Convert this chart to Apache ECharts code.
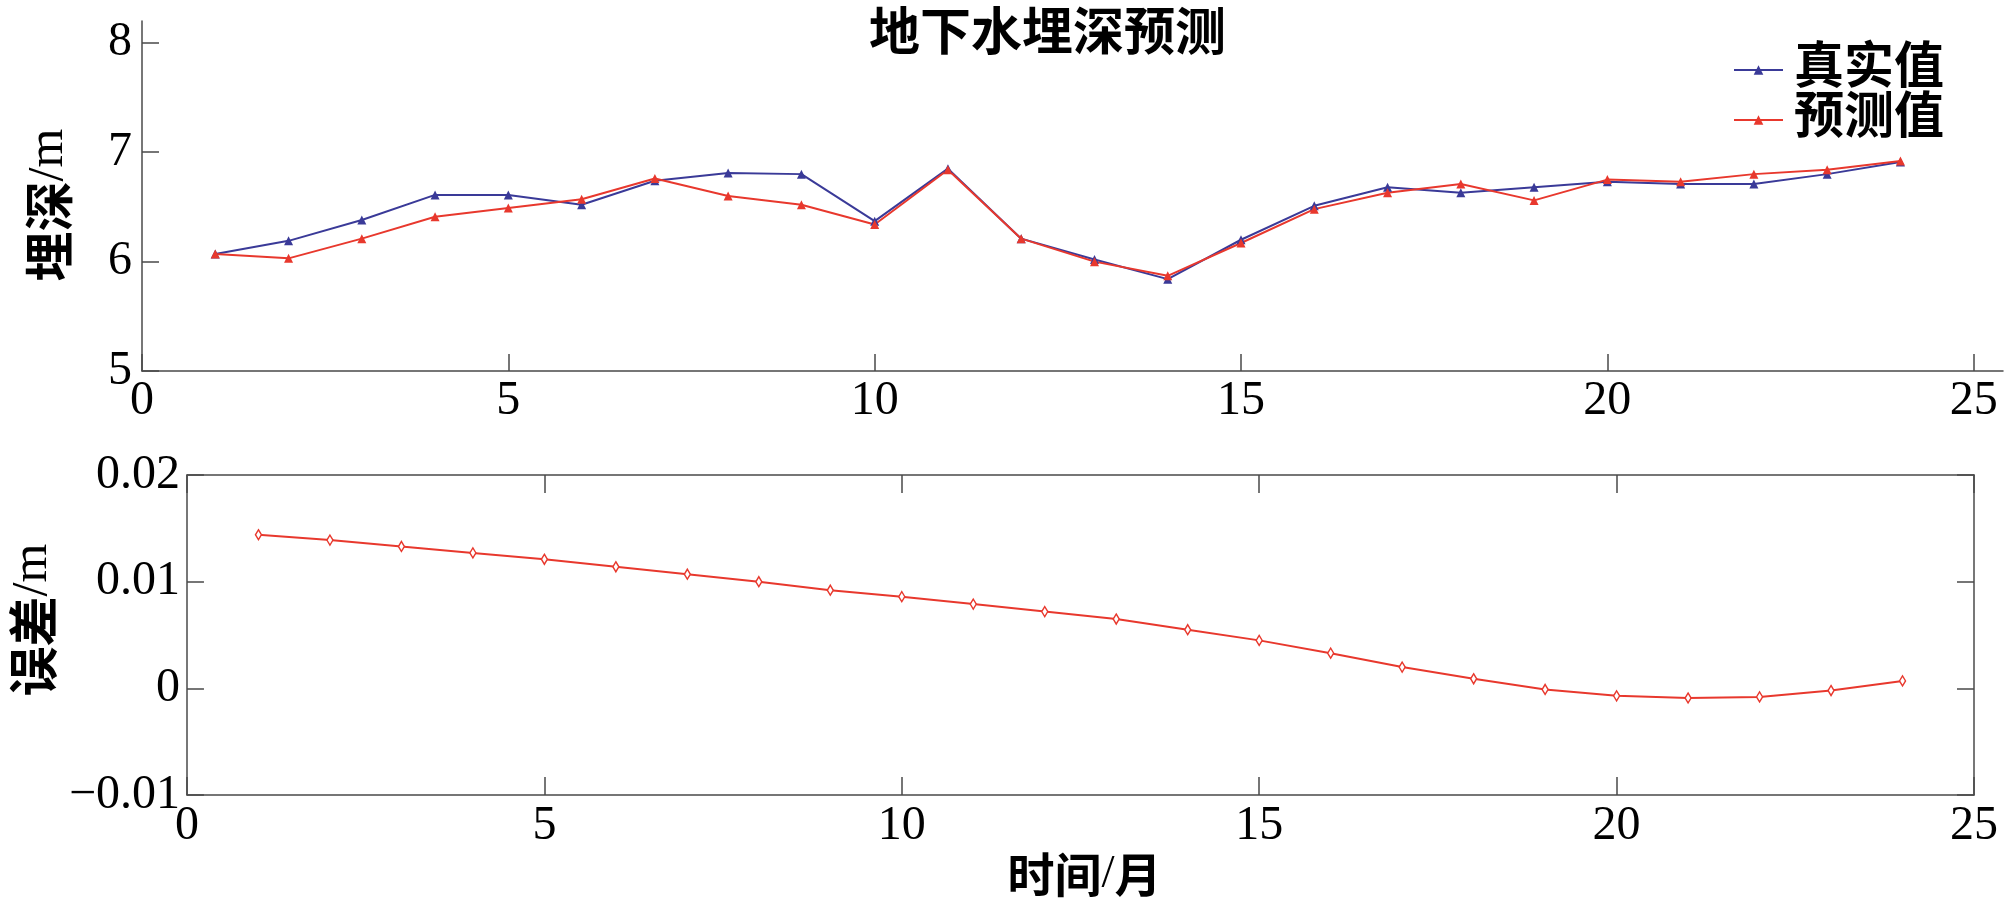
<!DOCTYPE html>
<html>
<head>
<meta charset="utf-8">
<script src="https://cdn.jsdelivr.net/npm/echarts@6/dist/echarts.min.js"></script>
<style>
html,body{margin:0;padding:0;background:#fff;}
#main{width:2008px;height:899px;}
</style>
</head>
<body>
<div id="main"></div>
<script>
// ---- data ----
const months = [1,2,3,4,5,6,7,8,9,10,11,12,13,14,15,16,17,18,19,20,21,22,23,24];
const trueDepth = [6.07,6.19,6.38,6.61,6.61,6.52,6.74,6.81,6.80,6.37,6.85,6.21,6.02,5.84,6.20,6.51,6.68,6.63,6.68,6.73,6.71,6.71,6.80,6.91];
const predDepth = [6.07,6.03,6.21,6.41,6.49,6.57,6.76,6.60,6.52,6.34,6.84,6.21,6.00,5.87,6.17,6.48,6.63,6.71,6.56,6.75,6.73,6.80,6.84,6.92];
const errorVals = [0.0144,0.0139,0.0133,0.0127,0.0121,0.0114,0.0107,0.0100,0.0092,0.0086,0.0079,0.0072,0.0065,0.0055,0.0045,0.0033,0.0020,0.0009,-0.0001,-0.0007,-0.0009,-0.0008,-0.0002,0.0007];
const xTicks = [0,5,10,15,20,25];
const depthTicks = [5,6,7,8];
const errTicks = [-0.01,0,0.01,0.02];
const seriesNames = ['真实值','预测值'];
const titleText = '地下水埋深预测';
const depthAxisName = ['埋深', '/m'];
const errAxisName = ['误差', '/m'];
const timeAxisName = ['时间', '/', '月'];

const BLUE = '#3A3A98';
const RED = '#E8382D';
const AX = '#4a4a4a';
const NUMFONT = 'Liberation Serif';
const CJKFONT = "'Liberation Serif', 'Noto Sans CJK SC'";

const pair = (xs, ys) => xs.map((x, i) => [x, ys[i]]);

const axisLine = { show: true, onZero: false, lineStyle: { color: AX, width: 1.5 } };
const numLabel = { color: '#000', fontFamily: NUMFONT, fontSize: 48 };
const nameRich = (size) => ({
  c: { fontFamily: 'Noto Sans CJK SC', fontSize: size, fontWeight: 'bold', color: '#000' },
  l: { fontFamily: NUMFONT, fontSize: size, color: '#000' }
});

const chart = echarts.init(document.getElementById('main'), null, { renderer: 'canvas' });
chart.setOption({
  animation: false,
  backgroundColor: '#fff',
  title: {
    text: titleText,
    left: 864, top: 6,
    textStyle: { fontFamily: CJKFONT, fontSize: 51, fontWeight: 'bold', color: '#000' }
  },
  legend: {
    data: seriesNames,
    orient: 'vertical',
    left: 1728, top: 40,
    itemWidth: 49, itemHeight: 12, itemGap: 0,
    textStyle: { fontFamily: CJKFONT, fontSize: 50, fontWeight: 'bold', lineHeight: 49, color: '#000', padding: [0, 0, 0, 6] }
  },
  grid: [
    { left: 142, top: 21, width: 1861, height: 350 },
    { left: 142, top: 475, width: 1832, height: 324 }
  ],
  xAxis: [
    {
      gridIndex: 0, type: 'value', min: 0, max: 25.4, position: 'bottom',
      axisLine: axisLine,
      axisTick: { show: true, inside: true, length: 17, lineStyle: { color: AX, width: 1.5 }, customValues: xTicks },
      axisLabel: Object.assign({ margin: 6, customValues: xTicks }, numLabel),
      splitLine: { show: false }
    },
    {
      gridIndex: 1, type: 'value', min: 0, max: 25, interval: 5, position: 'bottom',
      name: '{c|' + timeAxisName[0] + '}{l|' + timeAxisName[1] + '}{c|' + timeAxisName[2] + '}',
      nameLocation: 'middle', nameGap: 50,
      nameTextStyle: { padding: [0, 0, 0, 8], rich: nameRich(47) },
      axisLine: axisLine,
      axisTick: { show: true, inside: true, length: 18, lineStyle: { color: AX, width: 1.5 } },
      axisLabel: Object.assign({ margin: 7 }, numLabel),
      splitLine: { show: false }
    },
    {
      gridIndex: 1, type: 'value', min: 0, max: 25, interval: 5, position: 'top',
      axisLine: axisLine,
      axisTick: { show: true, inside: true, length: 18, lineStyle: { color: AX, width: 1.5 } },
      axisLabel: { show: false },
      splitLine: { show: false }
    }
  ],
  yAxis: [
    {
      gridIndex: 0, type: 'value', min: 5, max: 8.2, position: 'left',
      name: '{c|' + depthAxisName[0] + '}{l|' + depthAxisName[1] + '}',
      nameLocation: 'middle', nameGap: 68,
      nameTextStyle: { padding: [0, 18, 0, 0], rich: nameRich(50) },
      axisLine: axisLine,
      axisTick: { show: true, inside: true, length: 17, lineStyle: { color: AX, width: 1.5 }, customValues: depthTicks },
      axisLabel: Object.assign({ margin: 10, customValues: depthTicks }, numLabel),
      splitLine: { show: false }
    },
    {
      gridIndex: 1, type: 'value', min: -0.01, max: 0.02, interval: 0.01, position: 'left',
      name: '{c|' + errAxisName[0] + '}{l|' + errAxisName[1] + '}',
      nameLocation: 'middle', nameGap: 93,
      nameTextStyle: { padding: [0, 0, 0, 30], rich: nameRich(50) },
      axisLine: axisLine,
      axisTick: { show: true, inside: true, length: 17, lineStyle: { color: AX, width: 1.5 }, customValues: errTicks },
      axisLabel: Object.assign({
        margin: 7, customValues: errTicks,
        formatter: v => { const r = Number(v.toFixed(2)); return r === 0 ? '0' : String(r).replace('-', '\u2212'); }
      }, numLabel),
      splitLine: { show: false }
    },
    {
      gridIndex: 1, type: 'value', min: -0.01, max: 0.02, interval: 0.01, position: 'right',
      axisLine: axisLine,
      axisTick: { show: true, inside: true, length: 17, lineStyle: { color: AX, width: 1.5 } },
      axisLabel: { show: false },
      splitLine: { show: false }
    }
  ],
  series: [
    {
      name: seriesNames[0], type: 'line', xAxisIndex: 0, yAxisIndex: 0,
      data: pair(months, trueDepth),
      symbol: 'triangle', symbolSize: 9, showAllSymbol: true,
      lineStyle: { color: BLUE, width: 2 },
      itemStyle: { color: BLUE }
    },
    {
      name: seriesNames[1], type: 'line', xAxisIndex: 0, yAxisIndex: 0,
      data: pair(months, predDepth),
      symbol: 'triangle', symbolSize: 9, showAllSymbol: true,
      lineStyle: { color: RED, width: 2 },
      itemStyle: { color: RED }
    },
    {
      name: '误差', type: 'line', xAxisIndex: 1, yAxisIndex: 1,
      data: pair(months, errorVals),
      symbol: 'diamond', symbolSize: [6, 10], showAllSymbol: true,
      lineStyle: { color: RED, width: 2 },
      itemStyle: { color: '#fff', borderColor: RED, borderWidth: 1.5 }
    }
  ]
});
</script>
</body>
</html>
